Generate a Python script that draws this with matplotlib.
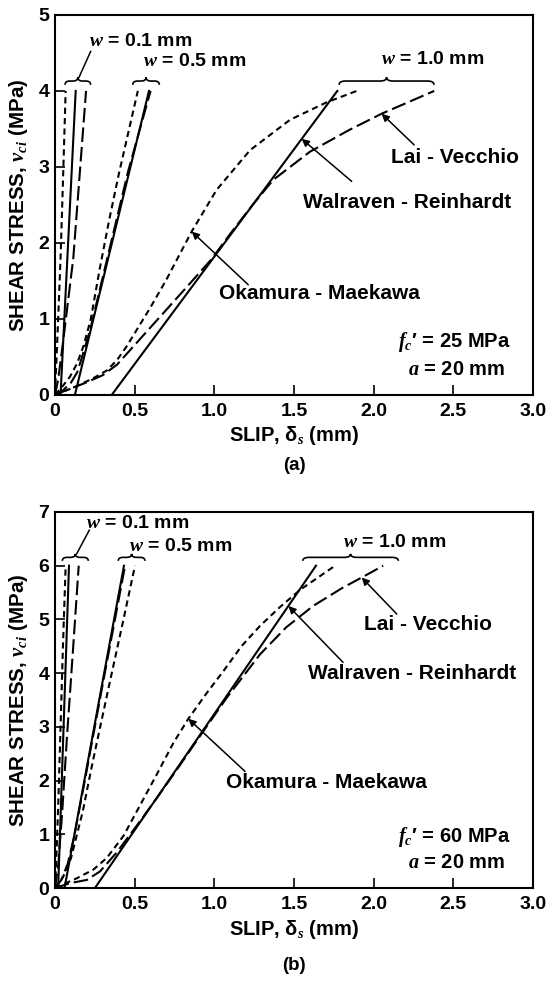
import matplotlib
matplotlib.use("Agg")
import matplotlib.pyplot as plt
from matplotlib.path import Path
from matplotlib.patches import PathPatch

plt.rcParams["font.family"] = ["Liberation Sans", "DejaVu Sans"]
plt.rcParams["font.weight"] = "bold"
plt.rcParams["mathtext.fontset"] = "custom"
plt.rcParams["mathtext.it"] = "Liberation Serif:italic"
plt.rcParams["mathtext.rm"] = "Liberation Serif"
plt.rcParams["mathtext.default"] = "it"

# (slip mm, shear stress MPa)
# panel (a): fc' = 25 MPa
A_OKA_01 = [(0, 0), (0.008, 0.4), (0.02, 1.0), (0.035, 1.8), (0.05, 2.8), (0.067, 4.0)]
A_WAL_01 = [(0.035, 0), (0.13, 4.0)]
A_LAI_01 = [(0, 0), (0.02, 0.2), (0.045, 0.6), (0.08, 1.2), (0.115, 1.8), (0.155, 2.9), (0.195, 4.0)]
A_OKA_05 = [(0, 0), (0.05, 0.12), (0.094, 0.24), (0.14, 0.42), (0.18, 0.65), (0.225, 1.0),
            (0.28, 1.65), (0.34, 2.3), (0.40, 2.9), (0.46, 3.45), (0.52, 4.0)]
A_WAL_05 = [(0.125, 0), (0.59, 4.0)]
A_LAI_05 = [(0, 0), (0.05, 0.06), (0.10, 0.16), (0.14, 0.3), (0.17, 0.5), (0.22, 0.85),
            (0.34, 1.9), (0.46, 2.95), (0.60, 4.0)]
A_OKA_10 = [(0, 0), (0.12, 0.1), (0.24, 0.22), (0.324, 0.32), (0.39, 0.46), (0.45, 0.64),
            (0.52, 0.88), (0.596, 1.14), (0.70, 1.52), (0.78, 1.84), (0.858, 2.15),
            (1.015, 2.70), (1.224, 3.22), (1.475, 3.62), (1.705, 3.85), (1.894, 4.0)]
A_WAL_10 = [(0.356, 0), (1.772, 4.0)]
A_LAI_10 = [(0, 0), (0.08, 0.07), (0.18, 0.15), (0.30, 0.26), (0.39, 0.40), (0.51, 0.68),
            (0.66, 1.03), (0.81, 1.38), (0.98, 1.78), (1.10, 2.12), (1.24, 2.50),
            (1.37, 2.83), (1.60, 3.20), (1.85, 3.49), (2.05, 3.70), (2.38, 4.0)]

# panel (b): fc' = 60 MPa
B_OKA_01 = [(0, 0), (0.008, 0.5), (0.02, 1.5), (0.035, 3.0), (0.05, 4.5), (0.067, 6.0)]
B_WAL_01 = [(0.02, 0), (0.088, 6.0)]
B_LAI_01 = [(0, 0), (0.02, 0.4), (0.045, 1.4), (0.075, 2.8), (0.11, 4.3), (0.149, 6.0)]
B_OKA_05 = [(0, 0), (0.05, 0.2), (0.1, 0.55), (0.174, 1.42), (0.23, 2.25), (0.283, 2.99),
            (0.352, 3.94), (0.43, 5.0), (0.502, 6.0)]
B_WAL_05 = [(0.06, 0), (0.433, 6.0)]
B_LAI_05 = [(0, 0), (0.04, 0.15), (0.08, 0.45), (0.12, 0.95), (0.2, 2.2), (0.3, 3.8), (0.44, 6.0)]
B_OKA_10 = [(0, 0), (0.136, 0.18), (0.24, 0.34), (0.325, 0.56), (0.43, 0.97), (0.534, 1.54),
            (0.638, 2.11), (0.743, 2.70), (0.837, 3.15), (0.95, 3.62), (1.06, 4.05),
            (1.17, 4.50), (1.287, 4.88), (1.412, 5.23), (1.538, 5.55), (1.758, 6.0)]
B_WAL_10 = [(0.251, 0), (1.638, 6.0)]
B_LAI_10 = [(0, 0), (0.094, 0.09), (0.2, 0.15), (0.283, 0.31), (0.387, 0.66), (0.513, 1.16),
            (0.638, 1.67), (0.764, 2.20), (0.889, 2.74), (1.08, 3.55), (1.287, 4.35),
            (1.45, 4.85), (1.62, 5.25), (1.80, 5.58), (1.925, 5.78), (2.06, 6.0)]

X_TICKS = [0, 0.5, 1.0, 1.5, 2.0, 2.5, 3.0]
X_TICK_LABELS = ["0", "0.5", "1.0", "1.5", "2.0", "2.5", "3.0"]
Y_TICKS_A = [0, 1, 2, 3, 4, 5]
Y_TICKS_B = [0, 1, 2, 3, 4, 5, 6, 7]

SHORT = (3, 2)
LONG = (7, 2.4)


def curve(ax, pts, dashes=None):
    xs = [p[0] for p in pts]
    ys = [p[1] for p in pts]
    line, = ax.plot(xs, ys, color="black", lw=1.5)
    if dashes:
        line.set_dashes(dashes)


def brace(ax, x1, x2, y, h, q):
    xm = (x1 + x2) / 2
    ym = y + h / 2
    verts = [(x1, y), (x1, ym), (x1 + q, ym), (xm - q, ym), (xm, ym), (xm, y + h),
             (xm, ym), (xm + q, ym), (x2 - q, ym), (x2, ym), (x2, y)]
    codes = [Path.MOVETO, Path.CURVE3, Path.CURVE3, Path.LINETO, Path.CURVE3, Path.CURVE3,
             Path.CURVE3, Path.CURVE3, Path.LINETO, Path.CURVE3, Path.CURVE3]
    ax.add_patch(PathPatch(Path(verts, codes), fill=False, lw=1.2, clip_on=False))


def arrow(ax, tip, tail):
    ax.annotate("", xy=tip, xytext=tail,
                arrowprops=dict(arrowstyle="-|>", lw=1.1, color="black",
                                mutation_scale=11, shrinkA=0, shrinkB=0))


def setup(ax, ymax, yticks):
    ax.set_xlim(0, 3.0)
    ax.set_ylim(0, ymax)
    ax.set_xticks(X_TICKS)
    ax.set_xticklabels(X_TICK_LABELS)
    ax.set_yticks(yticks)
    ax.set_yticklabels([str(t) for t in yticks])
    ax.tick_params(direction="in", length=7, width=1.2, labelsize=14)
    ax.tick_params(axis="x", pad=6)
    ax.tick_params(axis="y", pad=4)
    for s in ax.spines.values():
        s.set_linewidth(1.5)
    ax.set_xlabel(r"SLIP, δ${}_{s}$ (mm)", fontsize=14.5, fontweight="bold", labelpad=3)
    ax.set_ylabel(r"SHEAR STRESS, $v_{ci}$ (MPa)", fontsize=14.8, fontweight="bold", labelpad=6)


FC = r"$f_{c}$" + "\u2032"

fig = plt.figure(figsize=(5.47, 9.81), dpi=100)

# ---------- (a) ----------
ax = fig.add_axes([0.1005, 0.5974, 0.8739, 0.3874])
setup(ax, 5, Y_TICKS_A)
for pts in (A_OKA_01, A_OKA_05, A_OKA_10):
    curve(ax, pts, SHORT)
for pts in (A_WAL_01, A_WAL_05, A_WAL_10):
    curve(ax, pts)
for pts in (A_LAI_01, A_LAI_05, A_LAI_10):
    curve(ax, pts, LONG)

brace(ax, 0.063, 0.224, 4.08, 0.10, 0.03)
brace(ax, 0.488, 0.655, 4.08, 0.10, 0.03)
brace(ax, 1.783, 2.379, 4.08, 0.10, 0.04)
ax.plot([0.151, 0.224], [4.18, 4.52], color="black", lw=1.1, clip_on=False)
ax.text(0.215, 4.65, r"$w$ = 0.1 mm", fontsize=14, va="center", ha="left")
ax.text(0.552, 4.39, r"$w$ = 0.5 mm", fontsize=14, va="center", ha="left")
ax.text(2.045, 4.41, r"$w$ = 1.0 mm", fontsize=14, va="center", ha="left")

ax.text(2.511, 3.13, "Lai - Vecchio", fontsize=15, ha="center", va="center")
arrow(ax, (2.05, 3.70), (2.254, 3.29))
ax.text(2.21, 2.53, "Walraven - Reinhardt", fontsize=15, ha="center", va="center")
arrow(ax, (1.548, 3.37), (1.862, 2.81))
ax.text(1.662, 1.34, "Okamura - Maekawa", fontsize=15, ha="center", va="center")
arrow(ax, (0.858, 2.15), (1.213, 1.45))
ax.text(2.861, 0.70, FC + " = 25 MPa", fontsize=14.5, ha="right", va="center")
ax.text(2.825, 0.33, r"$a$ = 20 mm", fontsize=14.5, ha="right", va="center")
fig.text(0.5375, 1 - 465 / 981, "(a)", fontsize=13.5, ha="center", va="center")

# ---------- (b) ----------
ax = fig.add_axes([0.1005, 0.0948, 0.8739, 0.3833])
setup(ax, 7, Y_TICKS_B)
for pts in (B_OKA_01, B_OKA_05, B_OKA_10):
    curve(ax, pts, SHORT)
for pts in (B_WAL_01, B_WAL_05, B_WAL_10):
    curve(ax, pts)
for pts in (B_LAI_01, B_LAI_05, B_LAI_10):
    curve(ax, pts, LONG)

brace(ax, 0.046, 0.209, 6.09, 0.13, 0.03)
brace(ax, 0.397, 0.565, 6.09, 0.13, 0.03)
brace(ax, 1.555, 2.155, 6.09, 0.13, 0.04)
ax.plot([0.136, 0.215], [6.22, 6.66], color="black", lw=1.1, clip_on=False)
ax.text(0.195, 6.78, r"$w$ = 0.1 mm", fontsize=14, va="center", ha="left")
ax.text(0.465, 6.36, r"$w$ = 0.5 mm", fontsize=14, va="center", ha="left")
ax.text(1.81, 6.43, r"$w$ = 1.0 mm", fontsize=14, va="center", ha="left")

ax.text(2.344, 4.9, "Lai - Vecchio", fontsize=15, ha="center", va="center")
arrow(ax, (1.925, 5.78), (2.145, 5.1))
ax.text(2.239, 4.0, "Walraven - Reinhardt", fontsize=15, ha="center", va="center")
arrow(ax, (1.465, 5.25), (1.808, 4.2))
ax.text(1.701, 1.96, "Okamura - Maekawa", fontsize=15, ha="center", va="center")
arrow(ax, (0.837, 3.15), (1.193, 2.17))
ax.text(2.861, 0.95, FC + " = 60 MPa", fontsize=14.5, ha="right", va="center")
ax.text(2.825, 0.47, r"$a$ = 20 mm", fontsize=14.5, ha="right", va="center")
fig.text(0.5375, 1 - 966 / 981, "(b)", fontsize=13.5, ha="center", va="center")

fig.savefig("out.png", dpi=100)
